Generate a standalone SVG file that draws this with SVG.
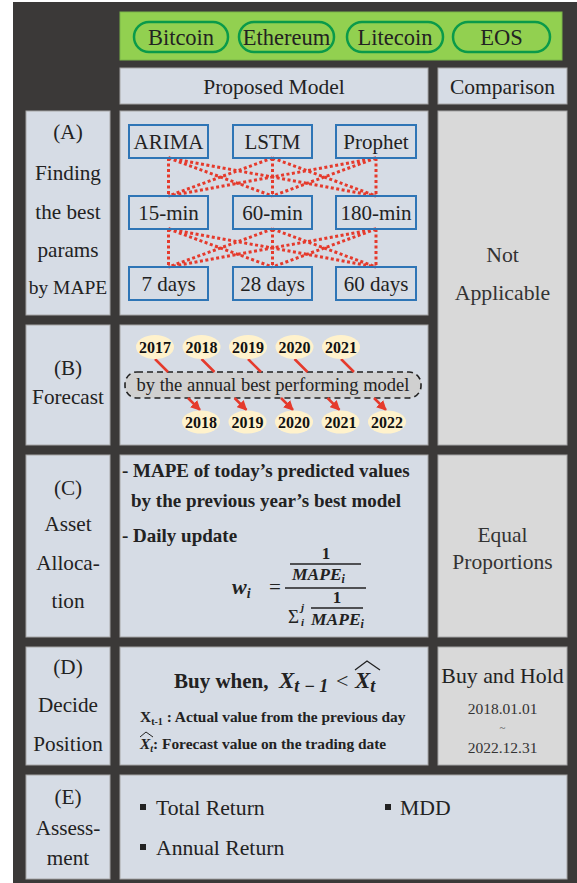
<svg xmlns="http://www.w3.org/2000/svg" width="577" height="883" viewBox="0 0 577 883" font-family="'Liberation Serif', 'DejaVu Serif', serif">
<style>
text{font-family:'Liberation Serif','DejaVu Serif',serif;fill:#222;}
.t20{font-size:21.5px;text-anchor:middle;}
.lb{font-size:21.2px;text-anchor:middle;}
.bt{font-size:21px;text-anchor:middle;}
.ct{font-size:22.5px;text-anchor:middle;}
.lab{fill:#d6dce5;stroke:#a6a6a6;stroke-width:1;}
.cmp{fill:#d9d9d9;stroke:#a6a6a6;stroke-width:1;}
.coin{fill:#92d050;stroke:#0a9a4a;stroke-width:2.5;}
.bx{fill:none;stroke:#2e75b6;stroke-width:2;}
.dot{stroke:#e53a2c;stroke-width:3;stroke-dasharray:3 2.5;fill:none;}
.yr{fill:#fff2cc;}
.yt{font-size:16px;font-weight:bold;text-anchor:middle;fill:#111;}
.ar{stroke:#e53a2c;stroke-width:2.5;fill:none;}
.b17{font-size:19px;font-weight:bold;}
.mi{font-style:italic;font-weight:bold;}
.sm{font-size:15.4px;font-weight:bold;}
.e{font-size:21.7px;}
</style>
<defs>
<marker id="ah" viewBox="0 0 10 10" refX="9" refY="5" markerWidth="4" markerHeight="4" orient="auto">
<path d="M0,0 L10,5 L0,10 z" fill="#e53a2c"/>
</marker>
</defs>
<rect x="13" y="2" width="564" height="881" fill="#3b3938"/>

<g id="coins">
<rect x="120" y="12" width="442" height="48" fill="#92d050" stroke="#7ab648" stroke-width="1"/>
<g id="bitcoin"><rect class="coin" x="134" y="22" width="94" height="30" rx="15"/><text class="ct" x="181" y="45">Bitcoin</text></g>
<g id="ethereum"><rect class="coin" x="239" y="22" width="95" height="30" rx="15"/><text class="ct" x="286.5" y="45">Ethereum</text></g>
<g id="litecoin"><rect class="coin" x="347" y="22" width="96" height="30" rx="15"/><text class="ct" x="395" y="45">Litecoin</text></g>
<g id="eos"><rect class="coin" x="453" y="22" width="97" height="30" rx="15"/><text class="ct" x="501.5" y="45">EOS</text></g>
</g>

<g id="header-proposed"><rect class="lab" x="120" y="68" width="308" height="36"/><text class="t20" x="274" y="94">Proposed Model</text></g>
<g id="header-comparison"><rect class="lab" x="438" y="68" width="129" height="36"/><text class="t20" x="502.5" y="94">Comparison</text></g>

<g id="label-a"><rect class="lab" x="26" y="111" width="84" height="204"/>
<text class="lb" x="68" y="139">(A)</text>
<text class="lb" x="68" y="180">Finding</text>
<text class="lb" x="68" y="219">the best</text>
<text class="lb" x="68" y="257">params</text>
<text class="lb" x="68" y="294" style="font-size:19.5px">by MAPE</text></g>
<g id="panel-a"><rect class="lab" x="120" y="111" width="308" height="204"/></g>
<g id="not-applicable"><rect class="cmp" x="438" y="111" width="129" height="334"/>
<text class="t20" x="502.5" y="262" style="fill:#333;font-size:21.8px">Not</text>
<text class="t20" x="502.5" y="300" style="fill:#333;font-size:21.8px">Applicable</text></g>

<g id="connectors-a">
<path class="dot" d="M168.5,158 L168.5,196 M168.5,158 L272.5,196 M168.5,158 L376,196 M272.5,158 L168.5,196 M272.5,158 L272.5,196 M272.5,158 L376,196 M376,158 L168.5,196 M376,158 L272.5,196 M376,158 L376,196"/>
<path class="dot" d="M168.5,229 L168.5,267 M168.5,229 L272.5,267 M168.5,229 L376,267 M272.5,229 L168.5,267 M272.5,229 L272.5,267 M272.5,229 L376,267 M376,229 L168.5,267 M376,229 L272.5,267 M376,229 L376,267"/>
</g>
<g id="arima"><rect class="bx" x="129" y="125" width="79" height="33"/><text class="bt" x="168.5" y="149">ARIMA</text></g>
<g id="lstm"><rect class="bx" x="233" y="125" width="79" height="33"/><text class="bt" x="272.5" y="149">LSTM</text></g>
<g id="prophet"><rect class="bx" x="336" y="125" width="80" height="33"/><text class="bt" x="376" y="149">Prophet</text></g>
<g id="m15"><rect class="bx" x="129" y="196" width="79" height="33"/><text class="bt" x="168.5" y="220">15-min</text></g>
<g id="m60"><rect class="bx" x="233" y="196" width="79" height="33"/><text class="bt" x="272.5" y="220">60-min</text></g>
<g id="m180"><rect class="bx" x="336" y="196" width="80" height="33"/><text class="bt" x="376" y="220">180-min</text></g>
<g id="d7"><rect class="bx" x="129" y="267" width="79" height="33"/><text class="bt" x="168.5" y="291">7 days</text></g>
<g id="d28"><rect class="bx" x="233" y="267" width="79" height="33"/><text class="bt" x="272.5" y="291">28 days</text></g>
<g id="d60"><rect class="bx" x="336" y="267" width="80" height="33"/><text class="bt" x="376" y="291">60 days</text></g>

<g id="label-b"><rect class="lab" x="26" y="325" width="84" height="120"/>
<text class="lb" x="68" y="375">(B)</text>
<text class="lb" x="68" y="404">Forecast</text></g>
<g id="panel-b"><rect class="lab" x="120" y="325" width="308" height="120"/>
<rect x="125" y="372" width="296" height="26" rx="12" fill="#d0d0d0" stroke="#222" stroke-width="1.6" stroke-dasharray="6 4"/>
<text x="273" y="391" style="font-size:18.5px;text-anchor:middle;">by the annual best performing model</text>
</g>
<g id="connectors-b">
<path class="ar" d="M155,359 L168,372 M201.5,359 L214.5,372 M248,359 L261,372 M294.5,359 L307.5,372 M341,359 L354,372"/>
<path class="ar" marker-end="url(#ah)" d="M188,398 L200,410"/>
<path class="ar" marker-end="url(#ah)" d="M234.5,398 L246.5,410"/>
<path class="ar" marker-end="url(#ah)" d="M281,398 L293,410"/>
<path class="ar" marker-end="url(#ah)" d="M327.5,398 L339.5,410"/>
<path class="ar" marker-end="url(#ah)" d="M374,398 L386,410"/>
</g>
<g id="y2017a"><ellipse class="yr" cx="155" cy="347" rx="19" ry="12"/><text class="yt" x="155" y="352.5">2017</text></g>
<g id="y2018a"><ellipse class="yr" cx="201.5" cy="347" rx="19" ry="12"/><text class="yt" x="201.5" y="352.5">2018</text></g>
<g id="y2019a"><ellipse class="yr" cx="248" cy="347" rx="19" ry="12"/><text class="yt" x="248" y="352.5">2019</text></g>
<g id="y2020a"><ellipse class="yr" cx="294.5" cy="347" rx="19" ry="12"/><text class="yt" x="294.5" y="352.5">2020</text></g>
<g id="y2021a"><ellipse class="yr" cx="341" cy="347" rx="19" ry="12"/><text class="yt" x="341" y="352.5">2021</text></g>
<g id="y2018b"><ellipse class="yr" cx="201" cy="422" rx="19" ry="11.5"/><text class="yt" x="201" y="427.5">2018</text></g>
<g id="y2019b"><ellipse class="yr" cx="247.5" cy="422" rx="19" ry="11.5"/><text class="yt" x="247.5" y="427.5">2019</text></g>
<g id="y2020b"><ellipse class="yr" cx="294" cy="422" rx="19" ry="11.5"/><text class="yt" x="294" y="427.5">2020</text></g>
<g id="y2021b"><ellipse class="yr" cx="340.5" cy="422" rx="19" ry="11.5"/><text class="yt" x="340.5" y="427.5">2021</text></g>
<g id="y2022b"><ellipse class="yr" cx="387" cy="422" rx="19" ry="11.5"/><text class="yt" x="387" y="427.5">2022</text></g>

<g id="label-c"><rect class="lab" x="26" y="455" width="84" height="182"/>
<text class="lb" x="68" y="495">(C)</text>
<text class="lb" x="68" y="531">Asset</text>
<text class="lb" x="68" y="570">Alloca-</text>
<text class="lb" x="68" y="608">tion</text></g>
<g id="panel-c"><rect class="lab" x="120" y="455" width="308" height="182"/>
<text class="b17" x="122" y="477">- MAPE of today’s predicted values</text>
<text class="b17" x="131" y="507">by the previous year’s best model</text>
<text class="b17" x="122" y="542">- Daily update</text>
<text class="mi" x="232" y="594" style="font-size:22px">w<tspan dy="4" style="font-size:14px">i</tspan></text>
<text x="269" y="594" style="font-size:21px">=</text>
<text x="326" y="559" style="font-size:17px;font-weight:bold;text-anchor:middle">1</text>
<line x1="290" y1="564" x2="361" y2="564" stroke="#222" stroke-width="1.3"/>
<text class="mi" x="292" y="580" style="font-size:17.5px">MAPE<tspan dy="3" style="font-size:12px">i</tspan></text>
<line x1="285" y1="588" x2="366" y2="588" stroke="#222" stroke-width="1.3"/>
<text x="288" y="623" style="font-size:19px">Σ</text>
<text class="mi" x="301" y="611" style="font-size:11px">j</text>
<text class="mi" x="301" y="626" style="font-size:11px">i</text>
<text x="337" y="603" style="font-size:17px;font-weight:bold;text-anchor:middle">1</text>
<line x1="311" y1="608" x2="363" y2="608" stroke="#222" stroke-width="1.3"/>
<text class="mi" x="311" y="625" style="font-size:17.5px">MAPE<tspan dy="3" style="font-size:12px">i</tspan></text>
</g>
<g id="equal-proportions"><rect class="cmp" x="438" y="455" width="129" height="182"/>
<text class="t20" x="502.5" y="542" style="fill:#333">Equal</text>
<text class="t20" x="502.5" y="569" style="fill:#333">Proportions</text></g>

<g id="label-d"><rect class="lab" x="26" y="647" width="84" height="118"/>
<text class="lb" x="68" y="674">(D)</text>
<text class="lb" x="68" y="712">Decide</text>
<text class="lb" x="68" y="751">Position</text></g>
<g id="panel-d"><rect class="lab" x="120" y="647" width="308" height="118"/>
<text x="174" y="688" style="font-size:21px;font-weight:bold">Buy when,</text>
<text class="mi" x="279" y="688" style="font-size:23px">X<tspan dy="4" style="font-size:18px" textLength="34">t−1</tspan></text>
<text x="336" y="688" style="font-size:22px">&lt;</text>
<text class="mi" x="355" y="688" style="font-size:23px">X<tspan dy="4" style="font-size:18px">t</tspan></text>
<path d="M355,670 L367,661 L380,670" fill="none" stroke="#222" stroke-width="1.3"/>
<text class="sm" x="140" y="722">X<tspan dy="3" style="font-size:10px">t-1</tspan><tspan dy="-3"> : Actual value from the previous day</tspan></text>
<text class="sm" x="140" y="749"><tspan class="mi">X</tspan><tspan class="mi" dy="3" style="font-size:10px">t</tspan><tspan dy="-3">: Forecast value on the trading date</tspan></text>
<path d="M140,737 L146,732 L153,737" fill="none" stroke="#222" stroke-width="1"/>
</g>
<g id="buy-and-hold"><rect class="cmp" x="438" y="647" width="129" height="118"/>
<text class="t20" x="502.5" y="683" style="font-size:21.8px">Buy and Hold</text>
<text x="502.5" y="714" style="font-size:15.5px;text-anchor:middle;fill:#333">2018.01.01</text>
<text x="502.5" y="731" style="font-size:11px;text-anchor:middle;fill:#555">~</text>
<text x="502.5" y="753" style="font-size:15.5px;text-anchor:middle;fill:#333">2022.12.31</text></g>

<g id="label-e"><rect class="lab" x="26" y="775" width="84" height="104"/>
<text class="lb" x="68" y="804">(E)</text>
<text class="lb" x="68" y="835">Assess-</text>
<text class="lb" x="68" y="865">ment</text></g>
<g id="panel-e"><rect class="lab" x="120" y="775" width="447" height="104"/>
<rect x="140" y="804" width="6" height="6" fill="#222"/>
<text class="e" x="156" y="815">Total Return</text>
<rect x="385" y="804" width="6" height="6" fill="#222"/>
<text class="e" x="400" y="815">MDD</text>
<rect x="140" y="844" width="6" height="6" fill="#222"/>
<text class="e" x="156" y="855">Annual Return</text>
</g>
</svg>
